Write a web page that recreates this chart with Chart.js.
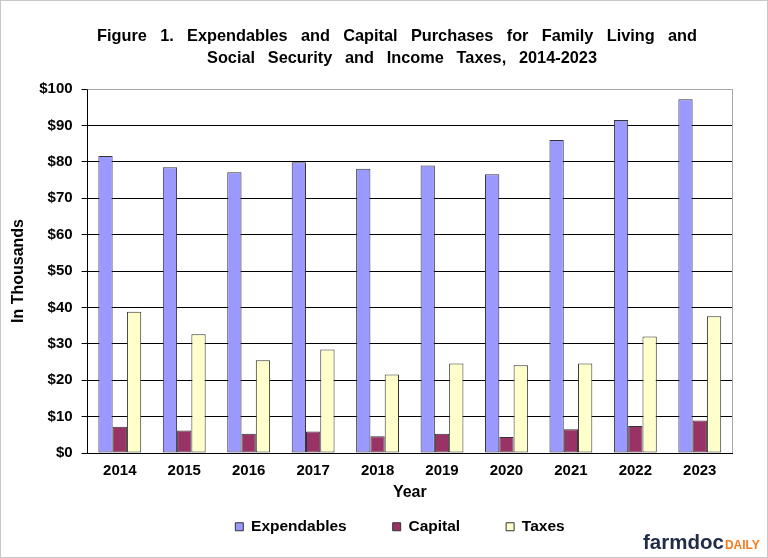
<!DOCTYPE html>
<html>
<head>
<meta charset="utf-8">
<script src="https://cdn.jsdelivr.net/npm/chart.js@4.4.1/dist/chart.umd.min.js"></script>
<style>
  html, body { margin: 0; padding: 0; background: #fff; }
  #wrap { width: 768px; height: 558px; position: relative; }
</style>
</head>
<body>
<div id="wrap"><canvas id="chart" width="768" height="558"></canvas></div>
<script>
// ---- data ($ thousands) ----
const years = ['2014', '2015', '2016', '2017', '2018', '2019', '2020', '2021', '2022', '2023'];
const expendables = [81.6, 78.5, 77.1, 79.9, 78.1, 79.0, 76.6, 86.0, 91.5, 97.2];
const capital = [7.2, 6.2, 5.3, 5.9, 4.6, 5.3, 4.4, 6.5, 7.4, 8.9];
const taxes = [38.8, 32.6, 25.5, 28.4, 21.6, 24.6, 24.1, 24.6, 32.0, 37.6];
const titleLines = [
    'Figure 1. Expendables and Capital Purchases for Family Living and',
    'Social Security and Income Taxes, 2014-2023'
];

const FONT = '"Liberation Sans", Arial, sans-serif';

// slightly condensed title text, spread over a given width by widening the word gaps
function spreadText(ctx, text, cx, y, width, sx) {
    const words = text.split(' ');
    let total = 0;
    words.forEach(w => { total += ctx.measureText(w).width * sx; });
    const gap = (width - total) / (words.length - 1);
    let x = cx - width / 2;
    words.forEach(w => {
        ctx.save();
        ctx.translate(x, y);
        ctx.scale(sx, 1);
        ctx.fillText(w, 0, 0);
        ctx.restore();
        x += ctx.measureText(w).width * sx + gap;
    });
}

// title, frame and logo, plus legend placement
const decorPlugin = {
    id: 'decor',
    afterLayout(chart) {
        const lg = chart.legend;
        const dx = 400 - (lg.left + lg.right) / 2;
        const dy = 473 - lg.top;
        lg.left += dx; lg.right += dx;
        lg.top += dy;
        lg.bottom = chart.height;
    },
    afterDraw(chart) {
        const ctx = chart.ctx;
        const area = chart.chartArea;
        ctx.save();

        // plot border (top / right in light grey)
        ctx.strokeStyle = '#a6a6a6';
        ctx.lineWidth = 1;
        ctx.beginPath();
        ctx.moveTo(area.left, Math.round(area.top) + 0.5);
        ctx.lineTo(Math.round(area.right) + 0.5, Math.round(area.top) + 0.5);
        ctx.lineTo(Math.round(area.right) + 0.5, area.bottom);
        ctx.stroke();

        // outer frame
        ctx.strokeStyle = '#c8c8c8';
        ctx.strokeRect(0.5, 0.5, chart.width - 1, chart.height - 1);

        // title
        ctx.fillStyle = '#000';
        ctx.font = 'bold 17px ' + FONT;
        ctx.textAlign = 'left';
        ctx.textBaseline = 'alphabetic';
        spreadText(ctx, titleLines[0], 397, 41, 600, 0.96);
        spreadText(ctx, titleLines[1], 402, 63, 390, 0.96);

        // farmdocDAILY logo
        ctx.font = 'bold 20.5px ' + FONT;
        ctx.fillStyle = '#1f2b47';
        ctx.fillText('farmdoc', 643, 549);
        const w = ctx.measureText('farmdoc').width;
        ctx.font = 'bold 12px ' + FONT;
        ctx.fillStyle = '#f47c20';
        ctx.fillText('DAILY', 643 + w + 1, 549);

        ctx.restore();
    }
};

const barStyle = { borderColor: '#333', borderWidth: 1, borderSkipped: false };

new Chart(document.getElementById('chart'), {
    type: 'bar',
    data: {
        labels: years,
        datasets: [
            { label: 'Expendables', data: expendables, backgroundColor: '#9999ff', ...barStyle },
            { label: 'Capital', data: capital, backgroundColor: '#993366', ...barStyle },
            { label: 'Taxes', data: taxes, backgroundColor: '#ffffcc', ...barStyle }
        ]
    },
    options: {
        responsive: false,
        animation: false,
        devicePixelRatio: 1,
        datasets: { bar: { barPercentage: 1, categoryPercentage: 0.665 } },
        layout: { padding: { top: 89, left: 0, right: 36, bottom: 15.4 } },
        plugins: {
            title: { display: false },
            tooltip: { enabled: false },
            legend: {
                position: 'bottom',
                maxHeight: 40,
                labels: {
                    color: '#000',
                    boxWidth: 8,
                    boxHeight: 8,
                    padding: 46,
                    font: { family: FONT, size: 15.5, weight: 'bold' }
                }
            }
        },
        scales: {
            x: {
                grid: { display: false, drawTicks: false },
                border: { display: true, color: '#000', width: 1 },
                ticks: { color: '#000', padding: 9, font: { family: FONT, size: 15, weight: 'bold' } },
                title: {
                    display: true, text: 'Year', color: '#000',
                    padding: { top: 4, bottom: 0 },
                    font: { family: FONT, size: 16, weight: 'bold' }
                },
                afterFit: s => { s.height = 49.6; }
            },
            y: {
                min: 0,
                max: 100,
                ticks: {
                    stepSize: 10,
                    color: '#000',
                    padding: 9,
                    font: { family: FONT, size: 15, weight: 'bold' },
                    callback: v => '$' + v
                },
                grid: {
                    color: c => (c.tick && c.tick.value === 100 ? '#a6a6a6' : '#000'),
                    tickColor: '#000',
                    tickLength: 6
                },
                border: { display: true, color: '#000', width: 1 },
                title: {
                    display: true, text: 'In Thousands', color: '#000',
                    padding: { top: 9, bottom: 2 },
                    font: { family: FONT, size: 16, weight: 'bold' }
                }
            }
        }
    },
    plugins: [decorPlugin]
});
</script>
</body>
</html>
